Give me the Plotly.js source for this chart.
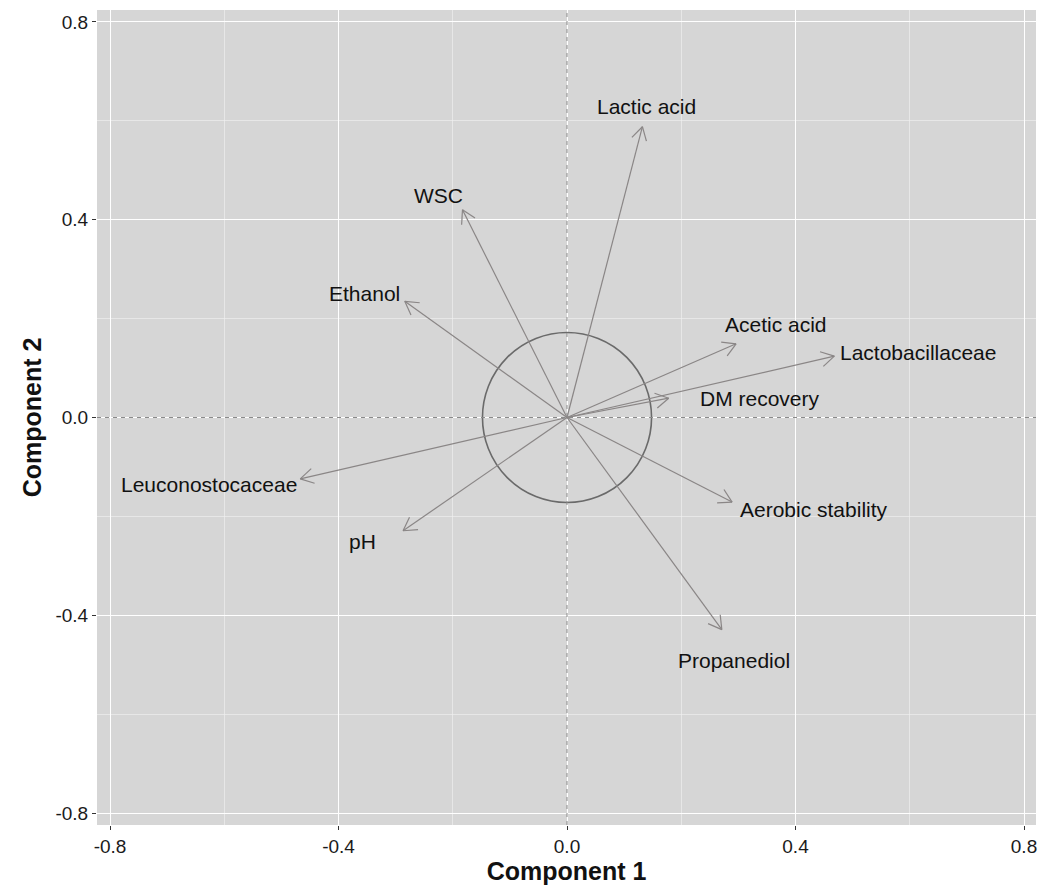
<!DOCTYPE html>
<html>
<head>
<meta charset="utf-8">
<script src="https://cdn.plot.ly/plotly-3.0.1.min.js"></script>
<style>
  html, body { margin: 0; padding: 0; background: #ffffff; }
  #chart { width: 1038px; height: 892px; }
</style>
</head>
<body>
<div id="chart"></div>
<script>
// ---- Data ----
const variables = ['Lactic acid', 'WSC', 'Ethanol', 'Acetic acid', 'Lactobacillaceae',
                   'DM recovery', 'Aerobic stability', 'Propanediol', 'pH', 'Leuconostocaceae'];
const component1 = [0.132, -0.183, -0.284, 0.296, 0.468, 0.178, 0.289, 0.271, -0.287, -0.467];
const component2 = [0.588, 0.420, 0.235, 0.149, 0.124, 0.039, -0.171, -0.429, -0.229, -0.124];
const circleRadius1 = 0.148;   // radius of the reference circle along Component 1
const circleRadius2 = 0.172;   // radius of the reference circle along Component 2
const tickValues = [-0.8, -0.4, 0.0, 0.4, 0.8];
const tickLabels = ['-0.8', '-0.4', '0.0', '0.4', '0.8'];

// ---- Label placement (data units), kept apart from the values ----
const labelX = [0.140, -0.225, -0.355, 0.365, 0.615, 0.338, 0.433, 0.293, -0.358, -0.627];
const labelY = [0.629, 0.449, 0.250, 0.188, 0.131, 0.038, -0.186, -0.491, -0.250, -0.136];

// ---- Layout geometry ----
const W = 1038, H = 892;
const margin = {l: 97, r: 2, t: 10, b: 67};
const xRange = [-0.8228, 0.8210];
const yRange = [-0.824, 0.824];
const plotW = W - margin.l - margin.r;
const plotH = H - margin.t - margin.b;
const kx = plotW / (xRange[1] - xRange[0]);
const ky = plotH / (yRange[1] - yRange[0]);

const FONT = 'Liberation Sans, Arial, sans-serif';
const arrowColor = '#8a8686';
const headLen = 15;                 // px
const headAngle = 30 * Math.PI / 180;

// Build arrows (shaft + open head) from the data via the axis scale
const ax = [], ay = [];
for (let i = 0; i < variables.length; i++) {
  const x = component1[i], y = component2[i];
  ax.push(0, x, null);
  ay.push(0, y, null);
  const dx = x * kx, dy = y * ky;
  const L = Math.hypot(dx, dy);
  const ux = -dx / L, uy = -dy / L;
  [headAngle, -headAngle].forEach(a => {
    const rx = ux * Math.cos(a) - uy * Math.sin(a);
    const ry = ux * Math.sin(a) + uy * Math.cos(a);
    ax.push(x, x + rx * headLen / kx, null);
    ay.push(y, y + ry * headLen / ky, null);
  });
}

const traces = [{
  type: 'scatter', mode: 'lines', x: ax, y: ay,
  line: {color: arrowColor, width: 1.2},
  hoverinfo: 'skip', showlegend: false
}];

const annotations = variables.map((v, i) => ({
  x: labelX[i], y: labelY[i], xref: 'x', yref: 'y',
  text: v, showarrow: false,
  font: {family: FONT, size: 21, color: '#111111'},
  xanchor: 'center', yanchor: 'middle'
}));

const axisCommon = {
  tickmode: 'array',
  tickvals: tickValues,
  ticktext: tickLabels,
  ticks: 'outside', ticklen: 4, tickwidth: 1, tickcolor: '#333333',
  tickfont: {family: FONT, size: 19, color: '#1a1a1a'},
  ticklabeloverflow: 'allow',
  showgrid: true, gridcolor: '#ffffff', gridwidth: 1,
  minor: {dtick: 0.2, tick0: 0, showgrid: true, gridcolor: '#f2f2f2', gridwidth: 0.6, ticks: ''},
  zeroline: false, showline: false, fixedrange: true
};

const layout = {
  width: W, height: H,
  margin: margin,
  paper_bgcolor: '#ffffff',
  plot_bgcolor: '#d6d6d6',
  showlegend: false,
  xaxis: Object.assign({}, axisCommon, {
    range: xRange,
    title: {text: '<b>Component 1</b>', standoff: 0,
            font: {family: FONT, size: 25, color: '#111111'}}
  }),
  yaxis: Object.assign({}, axisCommon, {
    range: yRange,
    title: {text: '<b>Component 2</b>', standoff: 6,
            font: {family: FONT, size: 25, color: '#111111'}}
  }),
  shapes: [
    {type: 'line', xref: 'x', yref: 'paper', x0: 0, x1: 0, y0: 0, y1: 1,
     line: {color: '#8a8a8a', width: 1, dash: '4px,4px'}, layer: 'above'},
    {type: 'line', xref: 'paper', yref: 'y', x0: 0, x1: 1, y0: 0, y1: 0,
     line: {color: '#8a8a8a', width: 1, dash: '4px,4px'}, layer: 'above'},
    {type: 'circle', xref: 'x', yref: 'y',
     x0: -circleRadius1, x1: circleRadius1, y0: -circleRadius2, y1: circleRadius2,
     line: {color: '#6a6a6a', width: 1.6}, layer: 'between'}
  ],
  annotations: annotations
};

Plotly.newPlot('chart', traces, layout, {displayModeBar: false, staticPlot: true});
</script>
</body>
</html>
